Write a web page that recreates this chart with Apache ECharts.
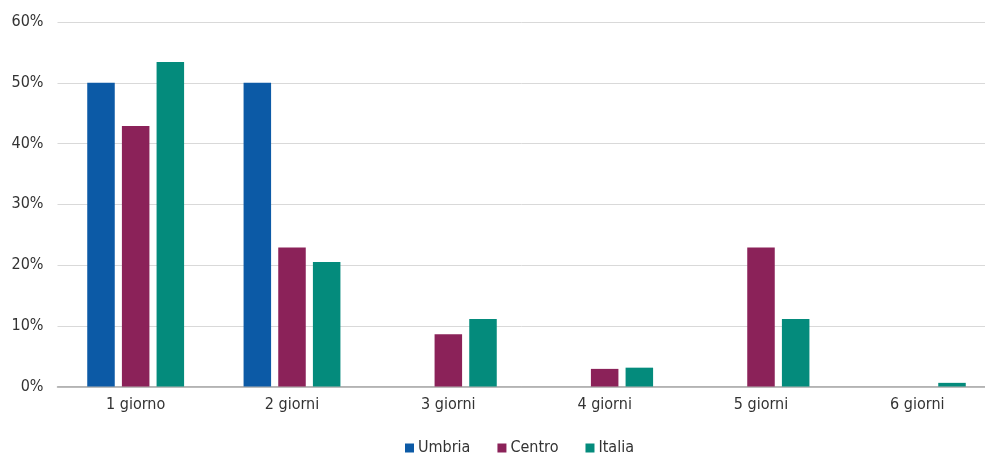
<!DOCTYPE html>
<html>
<head>
<meta charset="utf-8">
<script src="https://cdn.jsdelivr.net/npm/echarts@6/dist/echarts.min.js"></script>
<style>
  html, body { margin: 0; padding: 0; background: #ffffff; }
  #chart { width: 985px; height: 455px; }
</style>
</head>
<body>
<div id="chart"></div>
<script>
// Durata del soggiorno: quota percentuale per numero di giorni
const categories = ['1 giorno', '2 giorni', '3 giorni', '4 giorni', '5 giorni', '6 giorni'];
const umbria = [50.0, 50.0, 0, 0, 0, 0];
const centro = [42.9, 22.9, 8.6, 2.9, 22.9, 0];
const italia = [53.4, 20.5, 11.1, 3.1, 11.1, 0.6];
const yTicks = [0, 10, 20, 30, 40, 50, 60];

const FONT = '"DejaVu Sans Condensed", "Liberation Sans Narrow", sans-serif';
const chart = echarts.init(document.getElementById('chart'));

function bar(name, data, color) {
  return {
    name: name,
    type: 'bar',
    data: data,
    barWidth: '17.6%',
    barGap: '26%',
    itemStyle: { color: color },
    emphasis: { disabled: true }
  };
}

chart.setOption({
  animation: false,
  grid: { left: 57.5, width: 938, top: 22, bottom: 68.5, outerBoundsMode: 'none' },
  legend: {
    top: 440,
    left: 405,
    padding: 0,
    itemWidth: 9,
    itemHeight: 9,
    itemGap: 27,
    icon: 'rect',
    textStyle: { fontFamily: FONT, fontSize: 16, color: '#333', padding: [0, 0, 0, -1] },
    data: ['Umbria', 'Centro', 'Italia']
  },
  xAxis: {
    type: 'category',
    data: categories,
    axisTick: { show: false },
    axisLine: { lineStyle: { color: '#a6a6a6', width: 1.5 } },
    axisLabel: { fontFamily: FONT, fontSize: 16, color: '#333', margin: 10 }
  },
  yAxis: {
    type: 'value',
    min: yTicks[0],
    max: yTicks[yTicks.length - 1],
    interval: 10,
    axisLine: { show: false },
    axisTick: { show: false },
    splitLine: { lineStyle: { color: '#d9d9d9', width: 1 } },
    axisLabel: {
      fontFamily: FONT, fontSize: 16, color: '#333', margin: 14,
      formatter: v => v + '%'
    }
  },
  series: [
    bar('Umbria', umbria, '#0c5aa6'),
    bar('Centro', centro, '#8b2259'),
    bar('Italia', italia, '#048b7c')
  ]
});
</script>
</body>
</html>
